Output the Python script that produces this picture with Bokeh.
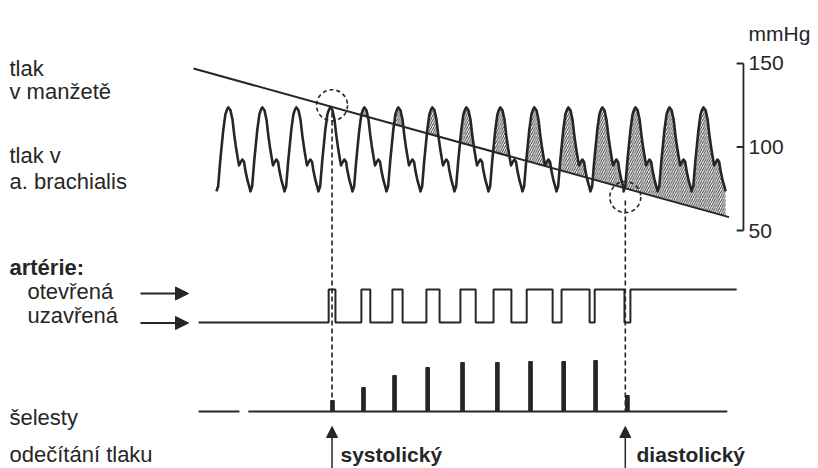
import numpy as np
from bokeh.plotting import figure
from bokeh.models import Range1d, Label, Arrow, NormalHead
from bokeh.embed import file_html
from bokeh.resources import INLINE
from bokeh.core.properties import value

INK = "#262626"
FONT = "Liberation Sans"

# ---------------- data (time in s, pressure in mmHg) ----------------
# cuff pressure: straight falling line
cuff_t = [0.0, 12.6]
cuff_p = [147.0, 58.0]

# one arterial pressure pulse (s after onset, mmHg)
beat_t = [0.00, 0.04, 0.09, 0.16, 0.21, 0.25, 0.28, 0.33, 0.38, 0.42,
          0.47, 0.51, 0.53, 0.56, 0.61, 0.65, 0.68, 0.73, 0.78]
beat_p = [73.4, 76.5, 92.0, 110.0, 119.5, 122.5, 123.7, 122.0, 116.0, 107.0,
          98.0, 92.0, 89.0, 90.5, 92.5, 91.0, 86.0, 80.0, 75.5]
beat_onsets = [0.54, 1.34, 2.14, 2.94, 3.74, 4.54, 5.34, 6.14, 6.94, 7.74,
               8.54, 9.34, 10.12, 10.92, 11.72]
wave_end_t = 12.52
wave_end_p = 73.4

# artery state: 0 = closed (uzavřená), 1 = open (otevřená)
artery_start = 0.12
open_start = [3.18, 3.95, 4.68, 5.48, 6.28, 7.06, 7.84, 8.66, 9.44, 10.28]
open_end = [3.34, 4.16, 4.92, 5.79, 6.64, 7.48, 8.45, 9.32, 10.14, 12.78]

# Korotkoff sounds (šelesty): time and relative loudness
snd_t = [3.27, 4.00, 4.73, 5.51, 6.33, 7.15, 7.93, 8.71, 9.46, 10.21]
snd_a = [0.22, 0.48, 0.72, 0.88, 0.98, 0.98, 1.00, 1.00, 1.02, 0.32]
snd_base_x0 = [0.12, 1.29]
snd_base_x1 = [1.08, 12.56]

# readings
sys_t, sys_p = 3.26, 125.0
dia_t, dia_p = 10.16, 70.0

# pressure scale
axis_t = 12.94
ticks = [50, 100, 150]
tick_labels = ["50", "100", "150"]

# ---------------- derived series ----------------
wave_t = []
wave_p = []
for on in beat_onsets:
    wave_t += [on + bt for bt in beat_t]
    wave_p += beat_p
wave_t.append(wave_end_t)
wave_p.append(wave_end_p)
wave_t = np.array(wave_t)
wave_p = np.array(wave_p)

fine_t = np.linspace(wave_t[0], wave_t[-1], 3000)
fine_w = np.interp(fine_t, wave_t, wave_p)
fine_c = np.interp(fine_t, cuff_t, cuff_p)
fine_up = np.maximum(fine_w, fine_c)

art_x = [artery_start]
art_y = [0]
for i, (a, b) in enumerate(zip(open_start, open_end)):
    if i < len(open_start) - 1:
        art_x += [a, a, b, b]
        art_y += [0, 1, 1, 0]
    else:
        art_x += [a, a, b]
        art_y += [0, 1, 1]

# ---------------- figure ----------------
p = figure(width=818, height=468,
           x_range=Range1d(-4.5412, 14.7059),
           y_range=Range1d(-92.51, 187.72),
           output_backend="svg", toolbar_location=None,
           x_axis_location=None, y_axis_location=None, min_border=0)
p.grid.visible = False
p.outline_line_color = None
p.background_fill_color = "white"
p.border_fill_color = "white"

p.extra_y_ranges = {
    "art": Range1d(-4.4242, 9.7576),
    "snd": Range1d(-1.14, 8.22),
    "py": Range1d(468, 0),
}
p.extra_x_ranges = {"px": Range1d(0, 818)}

# hatched area where arterial pressure exceeds cuff pressure
p.varea(x=fine_t, y1=fine_c, y2=fine_up, fill_color="#eeeeee", fill_alpha=1,
        hatch_pattern="/", hatch_color=INK, hatch_scale=4.5, hatch_weight=0.9)

p.line(wave_t, wave_p, line_width=2.6, color=INK, line_join="round")
p.line(cuff_t, cuff_p, line_width=2.0, color=INK)

# dashed circles
p.scatter([sys_t, dia_t], [sys_p, dia_p], marker="circle", size=31,
          fill_color=None, line_color=INK, line_width=1.6, line_dash="4 3")

# pressure scale bracket
p.segment(x0=[axis_t], y0=[50], x1=[axis_t], y1=[150], line_width=1.8, color=INK)
p.segment(x0=[axis_t - 0.16] * 3, y0=ticks, x1=[axis_t] * 3, y1=ticks,
          line_width=1.8, color=INK)
p.text(x=[axis_t + 0.12] * 3, y=ticks, text=tick_labels,
       text_font=value(FONT), text_font_size="21px", text_color=INK,
       text_baseline="middle", text_align="left")

# artery state
p.line(art_x, art_y, y_range_name="art", line_width=2.0, color=INK)

# sounds
p.segment(x0=snd_base_x0, y0=[0, 0], x1=snd_base_x1, y1=[0, 0],
          y_range_name="snd", line_width=2.0, color=INK)
p.vbar(x=snd_t, top=snd_a, bottom=0, width=0.085, y_range_name="snd",
       color=INK)

# dashed reading lines
p.segment(x0=[sys_t, dia_t], y0=[112, 200], x1=[sys_t, dia_t], y1=[411, 411],
          y_range_name="py", line_width=1.6, line_dash="5 3", color=INK)

# arrows at the bottom
for t in (sys_t, dia_t):
    p.add_layout(Arrow(end=NormalHead(size=11, fill_color=INK, line_color=INK),
                       x_start=t, y_start=468, x_end=t, y_end=426,
                       y_range_name="py", line_width=1.5, line_color=INK))

# arrows on the left
for yy in (293, 322.5):
    p.add_layout(Arrow(end=NormalHead(size=13, fill_color=INK, line_color=INK),
                       x_start=140, y_start=yy, x_end=188, y_end=yy,
                       x_range_name="px", y_range_name="py",
                       line_width=1.8, line_color=INK))

def lab(x, y, text, bold=False, size="22px"):
    p.add_layout(Label(x=x, y=y, x_range_name="px", y_range_name="py",
                       text=text, text_font=FONT, text_font_size=size,
                       text_font_style="bold" if bold else "normal",
                       text_color=INK, text_baseline="alphabetic",
                       text_align="left"))

lab(9, 68, "tlak")
lab(9, 91, "v manžetě")
lab(9, 155, "tlak v")
lab(9, 181, "a. brachialis")
lab(9, 267, "artérie:", bold=True)
lab(27, 291, "otevřená")
lab(27, 315, "uzavřená")
lab(9, 417, "šelesty")
lab(9, 454, "odečítání tlaku")
lab(748, 33, "mmHg", size="21px")
lab(340, 454, "systolický", bold=True, size="21px")
lab(636, 454, "diastolický", bold=True, size="21px")

open("out.html", "w").write(file_html(p, INLINE))
